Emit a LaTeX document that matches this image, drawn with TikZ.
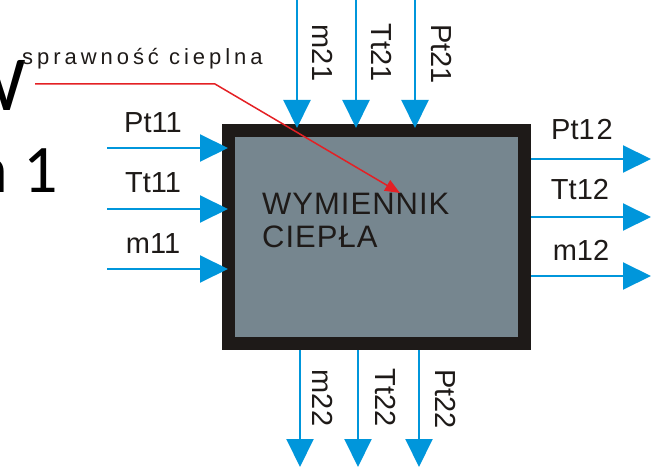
\documentclass[tikz,border=0pt]{standalone}
\usepackage{fontspec}
\setmainfont{Liberation Sans}
\newfontfamily\slidefont{Carlito}
\usetikzlibrary{arrows.meta,calc}
\definecolor{flowblue}{RGB}{0,150,219}
\definecolor{boxgray}{RGB}{118,134,143}
\definecolor{boxedge}{RGB}{30,26,24}
\definecolor{notered}{RGB}{228,32,36}
\tikzset{
  flow/.style={draw=flowblue,line width=2pt,-{Triangle[length=28pt,width=27pt]}},
  lab/.style={font=\fontsize{29}{30}\selectfont,text=boxedge,inner sep=0pt},
  vlab/.style={lab,rotate=-90,anchor=center},
  hlab/.style={lab,anchor=base},
  note/.style={draw=notered,line width=1.5pt,-{Triangle[length=15pt,width=12pt]}},
}
\begin{document}
\begin{tikzpicture}[x=1pt,y=-1pt]
\useasboundingbox (0,0) rectangle (656,468);
% slide remnants
\node[font=\slidefont\fontsize{78}{80}\selectfont,anchor=base east,inner sep=0pt] (slw) at (26,111) {W};
\node[font=\slidefont\fontsize{68}{70}\selectfont,anchor=base east,inner sep=0pt] (sln) at (58,193) {n 1};
% main box
\node[draw=boxedge,fill=boxgray,line width=13pt,minimum width=296pt,minimum height=213pt,inner sep=0pt] (hx) at (376.5,237) {};
\node[font=\fontsize{31}{33}\selectfont,align=left,anchor=base west,inner sep=0pt,text=boxedge] (hxt) at (262,247) {W\kern1ptY\kern1ptM\kern1ptI\kern1ptE\kern1ptN\kern1ptN\kern1ptI\kern1ptK\\C\kern1ptI\kern1ptE\kern1ptP\kern1ptŁ\kern1ptA};
% left inputs
\coordinate (i1) at (107,148);
\coordinate (i2) at (107,209);
\coordinate (i3) at (107,269);
\draw[flow] (i1) -- ([xshift=6pt]i1 -| hx.west);
\draw[flow] (i2) -- ([xshift=6pt]i2 -| hx.west);
\draw[flow] (i3) -- ([xshift=6pt]i3 -| hx.west);
\node[hlab] (lPt11) at (153,133) {Pt11};
\node[hlab] (lTt11) at (153,192) {Tt11};
\node[hlab] (lm11) at (153,253) {m11};
% right outputs
\coordinate (o1) at (651,159);
\coordinate (o2) at (651,217);
\coordinate (o3) at (651,276);
\draw[flow] (o1 -| hx.east) -- (o1);
\draw[flow] (o2 -| hx.east) -- (o2);
\draw[flow] (o3 -| hx.east) -- (o3);
\node[hlab] (lPt12) at (582,140) {Pt1\kern2pt2};
\node[hlab] (lTt12) at (580,200) {Tt12};
\node[hlab] (lm12) at (581,260) {m12};
% top inputs
\coordinate (t1) at (297,0);
\coordinate (t2) at (356,0);
\coordinate (t3) at (415,0);
\draw[flow] (t1) -- ([yshift=-4pt]t1 |- hx.north);
\draw[flow] (t2) -- ([yshift=-4pt]t2 |- hx.north);
\draw[flow] (t3) -- ([yshift=-4pt]t3 |- hx.north);
\node[vlab] (lm21) at (323,53) {m21};
\node[vlab] (lTt21) at (382,53) {Tt21};
\node[vlab] (lPt21) at (442,54) {Pt21};
% bottom outputs
\coordinate (b1) at (300,467);
\coordinate (b2) at (358,467);
\coordinate (b3) at (419,467);
\draw[flow] (b1 |- hx.south) -- (b1);
\draw[flow] (b2 |- hx.south) -- (b2);
\draw[flow] (b3 |- hx.south) -- (b3);
\node[vlab] (lm22) at (323,398) {m22};
\node[vlab] (lTt22) at (386,398) {Tt22};
\node[vlab] (lPt22) at (446,399) {Pt22};
% efficiency note
\node[font=\fontsize{22}{24}\selectfont\addfontfeatures{LetterSpace=18},anchor=base west,inner sep=0pt,text=boxedge] (eff) at (22,65) {sprawność cieplna};
\coordinate (e0) at (35,84);
\coordinate (e1) at (215,84);
\coordinate (e2) at (400,193);
\draw[note] (e0) -- (e1) -- (e2);
\end{tikzpicture}
\end{document}
